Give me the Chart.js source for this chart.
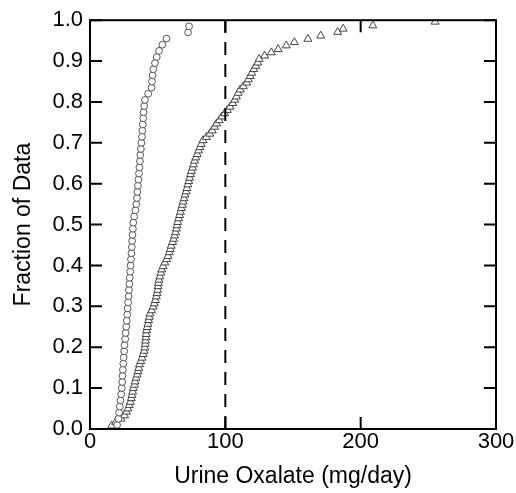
<!DOCTYPE html>
<html>
<head>
<meta charset="utf-8">
<script src="https://cdn.jsdelivr.net/npm/chart.js@4"></script>
<style>
  html, body { margin: 0; padding: 0; background: #fff; }
  #chart { display: block; }
</style>
</head>
<body>
<canvas id="chart" width="516" height="493"></canvas>
<script>
// urine oxalate, group 1 (circles)
const circleX = [
    20.0, 21.0, 21.5, 22.0, 22.5, 23.0, 23.5, 23.8, 24.0, 24.3,
    24.6, 24.9, 25.2, 25.5, 26.0, 26.3, 26.8, 27.2, 27.5, 27.8,
    28.2, 28.5, 28.8, 29.1, 29.4, 29.7, 30.0, 30.3, 30.6, 30.9,
    31.1, 31.4, 31.7, 32.0, 32.6, 33.5, 34.2, 34.7, 35.0, 35.4,
    35.8, 36.2, 36.5, 36.9, 37.2, 37.6, 38.0, 38.4, 38.7, 39.0,
    39.3, 39.6, 40.0, 40.6, 43.0, 45.5, 45.8, 46.2, 46.8, 48.0,
    49.3, 51.0, 53.5, 56.5, 72.5, 73.2
];
const circleY = [
    0.010, 0.025, 0.040, 0.055, 0.070, 0.085, 0.100, 0.115, 0.130, 0.145,
    0.160, 0.175, 0.190, 0.205, 0.220, 0.235, 0.250, 0.265, 0.280, 0.295,
    0.310, 0.325, 0.340, 0.355, 0.370, 0.385, 0.400, 0.415, 0.430, 0.445,
    0.460, 0.475, 0.490, 0.505, 0.520, 0.535, 0.550, 0.565, 0.580, 0.595,
    0.610, 0.625, 0.640, 0.655, 0.670, 0.685, 0.700, 0.715, 0.730, 0.745,
    0.760, 0.775, 0.790, 0.805, 0.820, 0.835, 0.850, 0.865, 0.880, 0.895,
    0.910, 0.925, 0.940, 0.955, 0.970, 0.985
];

// urine oxalate, group 2 (triangles)
const triangleX = [
    16, 19, 23, 25.5, 27, 28, 29, 29.8, 30.5, 31,
    31.5, 32, 32.8, 33.3, 34, 34.8, 35.5, 36, 36.6, 37.5,
    38.5, 39.3, 40, 40.5, 40.8, 41, 41.3, 41.5, 41.8, 42.3,
    42.8, 43.3, 43.8, 44.3, 45.5, 46.7, 47.5, 48.3, 49, 49.5,
    50, 50.3, 50.6, 51, 51.6, 52.3, 53, 54, 55.3, 56.6,
    57.6, 58.6, 59.3, 60, 61, 61.8, 62.5, 63.2, 63.8, 64.3,
    64.8, 65.5, 66.2, 66.8, 67.5, 68.2, 68.8, 69.5, 70.2, 71,
    71.6, 72.3, 73, 73.6, 74.3, 75, 75.8, 76.5, 77.3, 78.2,
    79.2, 80.2, 81.2, 82.2, 83.5, 86, 88.5, 90.3, 92, 93.5,
    95.5, 97.5, 99.5, 101.5, 103.5, 105.5, 107, 108.2, 109.5, 111,
    113.3, 115.8, 117, 118.3, 119.5, 121, 122.5, 124, 125, 129,
    134, 139, 145, 151, 161, 170.5, 183, 187, 209, 255
];
const triangleY = [
    0.008, 0.017, 0.025, 0.033, 0.042, 0.050, 0.058, 0.066, 0.075, 0.083,
    0.091, 0.100, 0.108, 0.116, 0.125, 0.133, 0.141, 0.149, 0.158, 0.166,
    0.174, 0.183, 0.191, 0.199, 0.208, 0.216, 0.224, 0.232, 0.241, 0.249,
    0.257, 0.266, 0.274, 0.282, 0.290, 0.299, 0.307, 0.315, 0.324, 0.332,
    0.340, 0.349, 0.357, 0.365, 0.373, 0.382, 0.390, 0.398, 0.407, 0.415,
    0.423, 0.432, 0.440, 0.448, 0.457, 0.465, 0.473, 0.481, 0.490, 0.498,
    0.506, 0.515, 0.523, 0.531, 0.540, 0.548, 0.556, 0.564, 0.573, 0.581,
    0.589, 0.598, 0.606, 0.614, 0.623, 0.631, 0.639, 0.647, 0.656, 0.664,
    0.672, 0.681, 0.689, 0.697, 0.706, 0.714, 0.722, 0.730, 0.739, 0.747,
    0.755, 0.764, 0.772, 0.780, 0.788, 0.797, 0.805, 0.813, 0.822, 0.830,
    0.838, 0.847, 0.855, 0.863, 0.871, 0.880, 0.888, 0.896, 0.905, 0.913,
    0.921, 0.929, 0.938, 0.946, 0.954, 0.962, 0.971, 0.979, 0.987, 0.996
];

// reference line at 100 mg/day
const refLineX = [100, 100];
const refLineY = [0, 1];

const xTicks = [0, 100, 200, 300];
const yTicks = [0, 0.1, 0.2, 0.3, 0.4, 0.5, 0.6, 0.7, 0.8, 0.9, 1.0];

const FONT = "'Liberation Sans', Arial, sans-serif";

function toPoints(xs, ys) {
    return xs.map((x, i) => ({ x: x, y: ys[i] }));
}

// draw frame and inward ticks on all four sides
const frameTicks = {
    id: "frameTicks",
    afterDatasetsDraw(chart) {
        const { ctx, chartArea: a, scales } = chart;
        const len = 12;
        ctx.save();
        ctx.strokeStyle = "#000";
        ctx.lineWidth = 2;
        ctx.strokeRect(a.left, a.top, a.right - a.left, a.bottom - a.top);
        ctx.beginPath();
        xTicks.forEach(v => {
            const px = scales.x.getPixelForValue(v);
            ctx.moveTo(px, a.bottom); ctx.lineTo(px, a.bottom - len);
            ctx.moveTo(px, a.top); ctx.lineTo(px, a.top + len);
        });
        yTicks.forEach(v => {
            const py = scales.y.getPixelForValue(v);
            ctx.moveTo(a.left, py); ctx.lineTo(a.left + len, py);
            ctx.moveTo(a.right, py); ctx.lineTo(a.right - len, py);
        });
        ctx.stroke();
        ctx.restore();
    }
};

new Chart("chart", {
    type: "scatter",
    data: {
        datasets: [
            {
                label: "ref",
                data: toPoints(refLineX, refLineY),
                showLine: true,
                borderColor: "#000",
                borderWidth: 2,
                borderDash: [13, 9],
                pointRadius: 0
            },
            {
                label: "group 1",
                data: toPoints(circleX, circleY),
                pointStyle: "circle",
                pointRadius: 3.4,
                borderColor: "#555",
                backgroundColor: "#fff",
                borderWidth: 1
            },
            {
                label: "group 2",
                data: toPoints(triangleX, triangleY),
                pointStyle: "triangle",
                pointRadius: 4.6,
                borderColor: "#444",
                backgroundColor: "#fff",
                borderWidth: 1
            }
        ]
    },
    options: {
        responsive: false,
        animation: false,
        layout: { padding: { top: 20, right: 20, left: 0, bottom: 0 } },
        plugins: {
            legend: { display: false },
            tooltip: { enabled: false }
        },
        scales: {
            x: {
                type: "linear",
                min: 0,
                max: 300,
                afterBuildTicks: (scale) => { scale.ticks = xTicks.map(v => ({ value: v })); },
                afterFit: (scale) => { scale.height = 64; },
                grid: { display: false, drawTicks: false },
                border: { display: false },
                ticks: {
                    padding: 0,
                    color: "#000",
                    font: { family: FONT, size: 22 },
                    maxRotation: 0
                },
                title: {
                    display: true,
                    text: "Urine Oxalate (mg/day)",
                    color: "#000",
                    font: { family: FONT, size: 23 },
                    padding: { top: 0, bottom: 3 }
                }
            },
            y: {
                type: "linear",
                min: 0,
                max: 1,
                afterBuildTicks: (scale) => { scale.ticks = yTicks.map(v => ({ value: v })); },
                afterFit: (scale) => { scale.width = 90; },
                grid: { display: false, drawTicks: false },
                border: { display: false },
                ticks: {
                    padding: 7,
                    color: "#000",
                    font: { family: FONT, size: 22 },
                    callback: (v) => Number(v).toFixed(1)
                },
                title: {
                    display: true,
                    text: "Fraction of Data",
                    color: "#000",
                    font: { family: FONT, size: 23 },
                    padding: { top: 10, bottom: 0 }
                }
            }
        }
    },
    plugins: [frameTicks]
});
</script>
</body>
</html>
